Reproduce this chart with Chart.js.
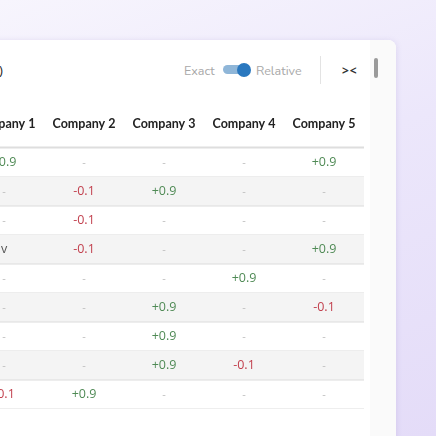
<!DOCTYPE html>
<html><head><meta charset="utf-8">
<script src="https://cdn.jsdelivr.net/npm/chart.js@4"></script>
<style>
html,body{margin:0;width:436px;height:436px;overflow:hidden;font-family:"Open Sans",sans-serif;}
body{background:linear-gradient(160deg,#f7f5fd 0%,#ece7fb 45%,#e4dcf8 100%);position:relative;}
#card{position:absolute;left:-40px;top:40px;width:436px;height:420px;background:#fff;border-radius:8px;box-shadow:0 1px 6px rgba(120,100,180,.18);}
#track{position:absolute;left:370px;top:40px;width:26px;height:400px;background:#fafafa;border-top-right-radius:8px;}
#thumb{position:absolute;left:374px;top:58px;width:4px;height:20px;background:#9a9a9a;border-radius:2px;}
.t{position:absolute;font-size:12.5px;color:#a8a8a8;top:62px;font-family:"Nunito","Open Sans",sans-serif;}
#tog{position:absolute;left:223px;top:65px;width:22px;height:9px;background:#8fb6d8;border-radius:5px;}
#knob{position:absolute;left:237px;top:63px;width:14px;height:14px;background:#2a78bf;border-radius:7px;}
#div{position:absolute;left:320px;top:56px;width:1px;height:28px;background:#e3e3e3;}
#arr{position:absolute;left:342px;top:62px;font-size:12px;color:#333;font-weight:bold;letter-spacing:1px;}
#lp{position:absolute;left:-1px;top:61px;font-size:13px;color:#222;}
#cv{position:absolute;left:-36px;top:100px;}
</style></head><body>
<div id="card"></div><div id="track"></div><div id="thumb"></div>
<div id="lp">)</div>
<div class="t" style="left:184px">Exact</div><div id="tog"></div><div id="knob"></div>
<div class="t" style="left:256px">Relative</div>
<div id="div"></div><div id="arr">&gt;&lt;</div>
<canvas id="cv" width="400" height="309"></canvas>
<script>
const companies=["Company 1","Company 2","Company 3","Company 4","Company 5"];
const rows=["r1","r2","r3","r4","r5","r6","r7","r8","r9"];
const c1=["+0.9","-","-","v","-","-","-","-","-0.1"];
const c2=["-","-0.1","-0.1","-0.1","-","-","-","-","+0.9"];
const c3=["-","+0.9","-","-","-","+0.9","+0.9","+0.9","-"];
const c4=["-","-","-","-","+0.9","-","-","-0.1","-"];
const c5=["+0.9","-","-","+0.9","-","-0.1","-","-","-"];
const cols=[c1,c2,c3,c4,c5];
const pts=[];
cols.forEach((c,i)=>c.forEach((v,j)=>pts.push({x:companies[i],y:rows[j],v})));
const tablePlugin={id:'tbl',
 beforeDatasetsDraw(ch){const {ctx,chartArea:a,scales:{x,y}}=ch;
  const h=y.getPixelForValue(1)-y.getPixelForValue(0);
  rows.forEach((r,j)=>{const cy=y.getPixelForValue(j);
   if(j%2===1){ctx.fillStyle='#f4f4f4';ctx.fillRect(a.left,cy-h/2,a.width,h);}
   ctx.fillStyle='#dcdcdc';ctx.fillRect(a.left,cy+h/2-0.5,a.width,1);});
  ctx.fillStyle='#dedede';ctx.fillRect(a.left,a.top-1.5,a.width,2);
  ctx.font='bold 12.5px Lato, sans-serif';ctx.fillStyle='#222';ctx.textAlign='center';ctx.textBaseline='middle';
  companies.forEach((c,i)=>ctx.fillText(c,x.getPixelForValue(i),a.top-24));
 },
 afterDatasetsDraw(ch){const {ctx,scales:{x,y}}=ch;
  ctx.textAlign='center';ctx.textBaseline='middle';
  pts.forEach(p=>{const px=x.getPixelForValue(companies.indexOf(p.x)),py=y.getPixelForValue(rows.indexOf(p.y));
   if(p.v==='-'){ctx.font='11px "Open Sans"';ctx.fillStyle='#bdbdbd';}
   else{ctx.font='12.5px "Open Sans"';ctx.fillStyle=p.v[0]==='+'?'#4f8a55':(p.v[0]==='-'?'#c2404e':'#555');}
   ctx.fillText(p.v,px,py);});
 }};
new Chart(document.getElementById('cv'),{type:'scatter',
 data:{datasets:[{data:pts,pointRadius:0}]},
 options:{responsive:false,animation:false,layout:{padding:{top:48,left:0,right:0,bottom:0}},
  plugins:{legend:{display:false},tooltip:{enabled:false}},
  scales:{x:{type:'category',labels:companies,offset:true,display:false},
          y:{type:'category',labels:rows,offset:true,display:false}}},
 plugins:[tablePlugin]});
</script></body></html>
